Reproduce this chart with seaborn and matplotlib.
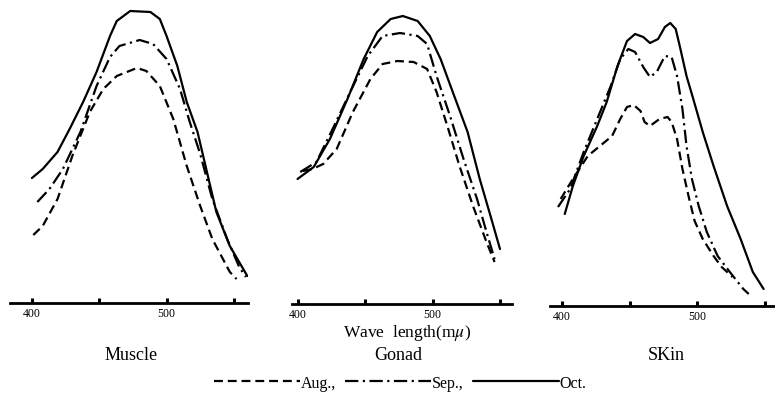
import numpy as np
import pandas as pd
import matplotlib
matplotlib.use("Agg")
import matplotlib.pyplot as plt
import seaborn as sns

# ---------------- data (relative absorbance) ----------------
tick_values = [400, 450, 500, 550]
tick_labels = ["400", "", "500", ""]
months = ["Aug.,", "Sep.,", "Oct."]
tissues = ["Muscle", "Gonad", "SKin"]
axis_title = "Wave  length(m$\\mu$)"

# Muscle
muscle_aug_wl = [401, 408, 419, 430, 443, 453, 463, 478, 485, 495, 505, 515, 525, 534, 547, 552]
muscle_aug_ab = [0.68, 0.77, 1.04, 1.47, 1.91, 2.14, 2.27, 2.35, 2.32, 2.17, 1.84, 1.37, 0.97, 0.64, 0.31, 0.24]
muscle_sep_wl = [404, 413, 423, 436, 448, 458, 465, 480, 490, 500, 510, 517, 525, 534, 545, 554, 559]
muscle_sep_ab = [1.01, 1.14, 1.34, 1.71, 2.17, 2.46, 2.57, 2.63, 2.59, 2.44, 2.14, 1.82, 1.49, 1.04, 0.64, 0.36, 0.26]
muscle_oct_wl = [400, 408, 419, 428, 438, 448, 458, 463, 473, 488, 495, 500, 508, 515, 523, 530, 537, 547, 560]
muscle_oct_ab = [1.25, 1.34, 1.51, 1.74, 2.01, 2.31, 2.67, 2.82, 2.92, 2.91, 2.84, 2.67, 2.37, 2.01, 1.71, 1.31, 0.91, 0.57, 0.27]

# Gonad
gonad_aug_wl = [404, 411, 419, 429, 441, 454, 463, 474, 486, 496, 503, 511, 520, 530, 540, 546]
gonad_aug_ab = [1.33, 1.35, 1.40, 1.55, 1.92, 2.25, 2.40, 2.43, 2.42, 2.35, 2.12, 1.78, 1.38, 0.98, 0.62, 0.42]
gonad_sep_wl = [402, 414, 426, 439, 452, 463, 476, 489, 496, 503, 513, 523, 533, 540, 546]
gonad_sep_ab = [1.32, 1.42, 1.75, 2.12, 2.48, 2.68, 2.71, 2.68, 2.60, 2.28, 1.88, 1.45, 1.05, 0.72, 0.45]
gonad_oct_wl = [400, 412, 424, 437, 449, 459, 469, 478, 489, 498, 506, 515, 526, 535, 543, 550]
gonad_oct_ab = [1.25, 1.37, 1.65, 2.05, 2.45, 2.72, 2.85, 2.88, 2.83, 2.68, 2.45, 2.12, 1.72, 1.25, 0.88, 0.55]

# Skin
skin_aug_wl = [399, 408, 419, 428, 437, 443, 448, 453, 458, 461, 465, 472, 478, 481, 485, 489, 494, 498, 504, 512, 518, 526]
skin_aug_ab = [1.07, 1.27, 1.50, 1.60, 1.70, 1.87, 1.99, 2.01, 1.95, 1.84, 1.80, 1.87, 1.89, 1.84, 1.67, 1.37, 1.07, 0.85, 0.67, 0.50, 0.39, 0.29]
skin_sep_wl = [397, 406, 416, 426, 436, 443, 449, 454, 460, 465, 470, 476, 481, 485, 489, 492, 496, 501, 507, 515, 524, 534, 538]
skin_sep_ab = [0.99, 1.17, 1.54, 1.87, 2.20, 2.47, 2.57, 2.54, 2.39, 2.29, 2.34, 2.50, 2.49, 2.30, 1.97, 1.60, 1.27, 1.00, 0.74, 0.50, 0.34, 0.17, 0.12]
skin_oct_wl = [402, 408, 416, 426, 433, 441, 448, 454, 460, 465, 471, 476, 480, 484, 487, 492, 497, 504, 512, 522, 532, 541, 549]
skin_oct_ab = [0.92, 1.20, 1.50, 1.80, 2.04, 2.40, 2.65, 2.72, 2.69, 2.63, 2.67, 2.79, 2.83, 2.77, 2.60, 2.30, 2.07, 1.74, 1.40, 1.00, 0.67, 0.34, 0.17]

panels = [
    [(muscle_aug_wl, muscle_aug_ab), (muscle_sep_wl, muscle_sep_ab), (muscle_oct_wl, muscle_oct_ab)],
    [(gonad_aug_wl, gonad_aug_ab), (gonad_sep_wl, gonad_sep_ab), (gonad_oct_wl, gonad_oct_ab)],
    [(skin_aug_wl, skin_aug_ab), (skin_sep_wl, skin_sep_ab), (skin_oct_wl, skin_oct_ab)],
]

# ---------------- styling ----------------
sns.set_theme(style="white")
plt.rcParams["font.family"] = ["Liberation Serif", "DejaVu Serif"]
plt.rcParams["mathtext.fontset"] = "stix"
plt.rcParams["text.color"] = "black"
plt.rcParams["xtick.color"] = "black"
plt.rcParams["xtick.labelcolor"] = "black"

W, H = 775, 406
fig = plt.figure(figsize=(W / 100, H / 100), dpi=100)

line_styles = [(0, (4, 2.2)), (0, (6, 2, 1, 2)), "solid"]
# pixel layout of each panel: (axis left px, axis right px, baseline px, xlim, ytop)
layout = [
    (10, 248, 304, (383.7, 560.5), 3.04),
    (292, 512, 305, (395.9, 558.9), 3.05),
    (550, 775, 307, (391.1, 557.4), 3.07),
]
title_x = [131, 398, 666]

handles = []
for i, (series, (l, r, base, xl, ytop)) in enumerate(zip(panels, layout)):
    ax = fig.add_axes([l / W, (H - base) / H, (r - l) / W, base / H])
    ax.set_facecolor("none")
    for j, (wl, ab) in enumerate(series):
        df = pd.DataFrame({"wl": wl, "ab": ab})
        sns.lineplot(data=df, x="wl", y="ab", ax=ax, color="black", lw=1.6,
                     linestyle=line_styles[j], estimator=None, sort=False)
        if i == 0:
            handles.append(ax.lines[-1])
    ax.set_xlim(*xl)
    ax.set_ylim(0, ytop)
    ax.set_xlabel("")
    ax.set_ylabel("")
    ax.set_yticks([])
    ax.set_xticks(tick_values)
    ax.set_xticklabels(tick_labels)
    for s in ["top", "left", "right"]:
        ax.spines[s].set_visible(False)
    ax.spines["bottom"].set_linewidth(2.0)
    ax.spines["bottom"].set_color("black")
    ax.tick_params(axis="x", direction="in", length=3.5, width=2.2, pad=3,
                   labelsize=8.5, colors="black", bottom=True)
    fig.text(title_x[i] / W, 1 - 356 / H, tissues[i],
             ha="center", va="center", fontsize=13, color="black")

fig.text(407 / W, 1 - 333 / H, axis_title, ha="center", va="center",
         fontsize=12.5, color="black")

leg = fig.legend(handles, months, loc="center", bbox_to_anchor=(400 / W, 1 - 384 / H),
                 ncol=3, frameon=False, handlelength=5.4, handletextpad=0.0,
                 columnspacing=0.6, fontsize=11.5, labelcolor="black")

fig.savefig("out.png", dpi=100)
